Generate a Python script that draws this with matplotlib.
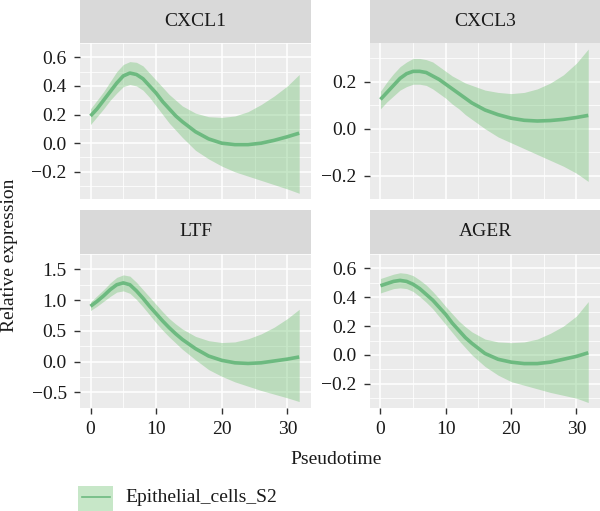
import matplotlib.pyplot as plt
from matplotlib.patches import Rectangle
from matplotlib.lines import Line2D

plt.rcParams['font.family'] = ['Liberation Serif', 'DejaVu Serif']

# pseudotime sample points
pseudotime = [0, 1, 2, 3, 4, 5, 6, 7, 8, 9, 10, 11, 12, 13, 14, 16, 18, 20, 22, 24, 26, 28, 30, 31.8]

genes = ["CXCL1", "CXCL3", "LTF", "AGER"]

cxcl1_fit = [0.19, 0.24, 0.30, 0.36, 0.42, 0.47, 0.49, 0.48, 0.45, 0.40, 0.35, 0.29, 0.24, 0.19, 0.15,
             0.08, 0.03, 0.00, -0.01, -0.01, 0.00, 0.02, 0.045, 0.07]
cxcl1_hi = [0.24, 0.30, 0.36, 0.43, 0.50, 0.55, 0.57, 0.565, 0.54, 0.49, 0.44, 0.39, 0.34, 0.30, 0.26,
            0.21, 0.185, 0.18, 0.19, 0.22, 0.27, 0.33, 0.40, 0.48]
cxcl1_lo = [0.13, 0.185, 0.24, 0.30, 0.35, 0.395, 0.41, 0.40, 0.37, 0.32, 0.26, 0.20, 0.14, 0.09, 0.04,
            -0.05, -0.11, -0.16, -0.20, -0.23, -0.26, -0.29, -0.32, -0.35]

cxcl3_fit = [0.125, 0.155, 0.185, 0.215, 0.235, 0.245, 0.245, 0.24, 0.225, 0.21, 0.19, 0.17, 0.15, 0.13, 0.11,
             0.08, 0.06, 0.045, 0.036, 0.033, 0.035, 0.04, 0.048, 0.057]
cxcl3_hi = [0.16, 0.20, 0.235, 0.265, 0.285, 0.30, 0.30, 0.295, 0.285, 0.265, 0.245, 0.225, 0.21, 0.195, 0.185,
            0.165, 0.155, 0.15, 0.155, 0.17, 0.195, 0.23, 0.28, 0.34]
cxcl3_lo = [0.085, 0.115, 0.14, 0.165, 0.18, 0.19, 0.19, 0.185, 0.17, 0.15, 0.13, 0.105, 0.085, 0.06, 0.04,
            0.0, -0.035, -0.06, -0.085, -0.11, -0.135, -0.16, -0.19, -0.225]

ltf_fit = [0.90, 0.98, 1.07, 1.17, 1.25, 1.28, 1.25, 1.15, 1.03, 0.90, 0.78, 0.66, 0.55, 0.45, 0.36,
           0.21, 0.09, 0.02, -0.02, -0.03, -0.02, 0.01, 0.04, 0.075]
ltf_hi = [0.97, 1.07, 1.17, 1.28, 1.37, 1.41, 1.39, 1.29, 1.17, 1.05, 0.93, 0.81, 0.70, 0.61, 0.53,
          0.41, 0.34, 0.31, 0.32, 0.37, 0.45, 0.56, 0.70, 0.85]
ltf_lo = [0.83, 0.90, 0.98, 1.06, 1.13, 1.15, 1.11, 1.01, 0.89, 0.76, 0.63, 0.51, 0.40, 0.30, 0.20,
          0.03, -0.13, -0.24, -0.33, -0.40, -0.47, -0.53, -0.59, -0.65]

ager_fit = [0.48, 0.495, 0.51, 0.517, 0.51, 0.49, 0.46, 0.42, 0.38, 0.33, 0.28, 0.22, 0.17, 0.12, 0.08,
            0.01, -0.03, -0.05, -0.06, -0.06, -0.05, -0.03, -0.01, 0.015]
ager_hi = [0.53, 0.545, 0.56, 0.57, 0.565, 0.55, 0.52, 0.485, 0.44, 0.39, 0.335, 0.285, 0.235, 0.195, 0.16,
           0.11, 0.09, 0.085, 0.09, 0.11, 0.15, 0.20, 0.27, 0.37]
ager_lo = [0.43, 0.445, 0.46, 0.465, 0.46, 0.44, 0.405, 0.365, 0.32, 0.265, 0.21, 0.155, 0.10, 0.05, 0.0,
           -0.08, -0.14, -0.185, -0.21, -0.235, -0.26, -0.28, -0.30, -0.33]

x_ticks = [0, 10, 20, 30]
y_ticks = {
    "CXCL1": [-0.2, 0.0, 0.2, 0.4, 0.6],
    "CXCL3": [-0.2, 0.0, 0.2],
    "LTF": [-0.5, 0.0, 0.5, 1.0, 1.5],
    "AGER": [-0.2, 0.0, 0.2, 0.4, 0.6],
}
y_limits = {
    "CXCL1": (-0.39, 0.626),
    "CXCL3": (-0.251, 0.366),
    "LTF": (-0.755, 1.545),
    "AGER": (-0.368, 0.62),
}
fits = {"CXCL1": cxcl1_fit, "CXCL3": cxcl3_fit, "LTF": ltf_fit, "AGER": ager_fit}
highs = {"CXCL1": cxcl1_hi, "CXCL3": cxcl3_hi, "LTF": ltf_hi, "AGER": ager_hi}
lows = {"CXCL1": cxcl1_lo, "CXCL3": cxcl3_lo, "LTF": ltf_lo, "AGER": ager_lo}

line_col = "#6DBA80"
band_col = "#74C476"
W, H = 600, 511

fig = plt.figure(figsize=(6, 5.11), dpi=100)


def px_box(x0, y0, x1, y1):
    # pixel box (top-left origin) -> figure fraction
    return [x0 / W, 1 - y1 / H, (x1 - x0) / W, (y1 - y0) / H]


# panel pixel positions: (left, right, strip_top, panel_top, panel_bottom)
layout = {
    "CXCL1": (80, 311, 0, 43, 199),
    "CXCL3": (370, 600, 0, 43, 199),
    "LTF": (80, 311, 210, 254, 408),
    "AGER": (370, 600, 210, 254, 408),
}

for g in genes:
    l, r, st, pt, pb = layout[g]
    # strip
    sax = fig.add_axes(px_box(l, st, r, pt))
    sax.set_facecolor("#D9D9D9")
    sax.set_xticks([])
    sax.set_yticks([])
    for s in sax.spines.values():
        s.set_visible(False)
    sax.text(0.5, 0.5, g, ha="center", va="center", fontsize=14, color="#1A1A1A", transform=sax.transAxes)

    ax = fig.add_axes(px_box(l, pt, r, pb))
    ax.set_facecolor("#EBEBEB")
    for s in ax.spines.values():
        s.set_visible(False)
    ax.set_xlim(-1.6, 33.6)
    ax.set_ylim(*y_limits[g])
    yt = y_ticks[g]
    step = yt[1] - yt[0]
    ax.set_xticks(x_ticks)
    ax.set_xticks([5, 15, 25], minor=True)
    ax.set_yticks(yt)
    ax.set_yticks([v + step / 2 for v in [yt[0] - step] + yt], minor=True)
    ax.grid(which="major", color="white", lw=1.1)
    ax.grid(which="minor", color="white", lw=0.55)
    ax.set_axisbelow(True)
    ax.set_yticklabels([f"{v:.1f}".replace("-", "\u2212") for v in yt])
    ax.tick_params(which="major", length=4.5, width=1.0, color="#333333", labelsize=14, labelcolor="#1A1A1A", pad=5)
    ax.tick_params(which="minor", length=0)
    if g in ("CXCL1", "CXCL3"):
        ax.tick_params(axis="x", which="major", length=0, labelbottom=False)

    ax.fill_between(pseudotime, lows[g], highs[g], color=band_col, alpha=0.4, lw=0)
    ax.plot(pseudotime, fits[g], color=line_col, lw=2.6, solid_capstyle="butt", solid_joinstyle="round")

fig.text(10 / W, 1 - 255 / H, "Relative expression", rotation=90, ha="center", va="center", fontsize=14, color="#1A1A1A")
fig.text(336 / W, 1 - 459 / H, "Pseudotime", ha="center", va="center", fontsize=14, color="#1A1A1A")

# legend
kax = fig.add_axes(px_box(78, 486, 113, 511))
kax.set_xlim(0, 1)
kax.set_ylim(0, 1)
kax.axis("off")
kax.add_patch(Rectangle((0, 0), 1, 1, facecolor=band_col, alpha=0.4, lw=0))
kax.add_line(Line2D([0.1, 0.9], [0.55, 0.55], color=line_col, lw=1.2))
fig.text(125 / W, 1 - 497 / H, "Epithelial_cells_S2", ha="left", va="center", fontsize=14, color="#1A1A1A")

fig.savefig("out.png", dpi=100)
